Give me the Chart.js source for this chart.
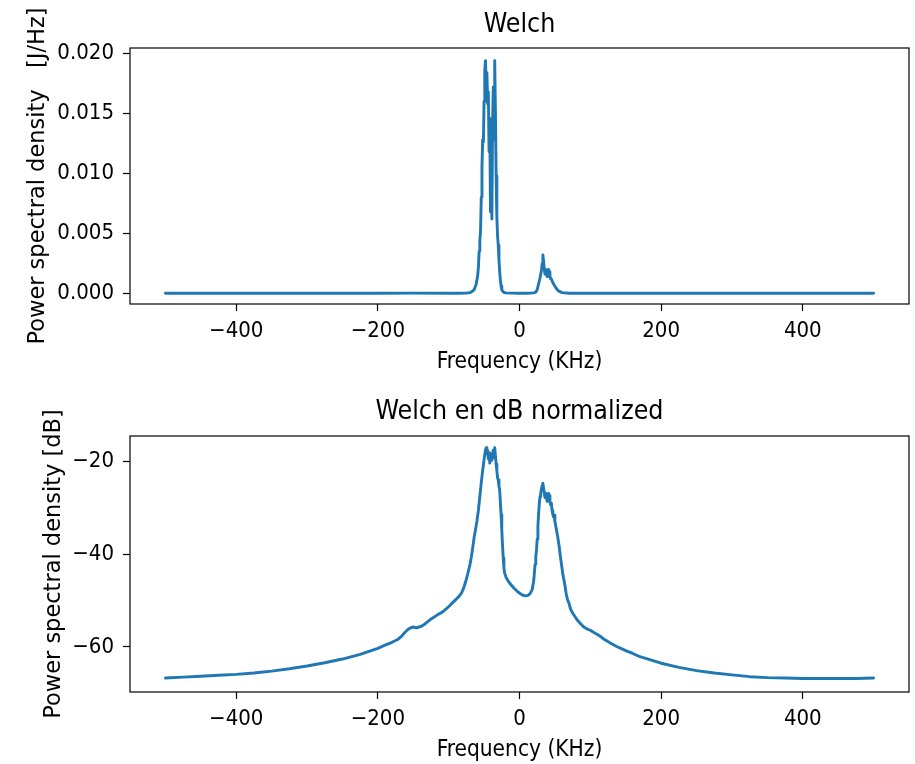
<!DOCTYPE html>
<html><head><meta charset="utf-8">
<script src="https://cdn.jsdelivr.net/npm/chart.js@4"></script>
<style>
html,body{margin:0;padding:0;background:#fff;overflow:hidden;width:915px;height:764px}
#c1{position:absolute;left:0;top:0}
#c2{position:absolute;left:0;top:382px}
</style>
</head><body>
<canvas id="c1" width="915" height="382"></canvas>
<canvas id="c2" width="915" height="382"></canvas>
<script>
// ---- data ----
const freqLin = [-500,-400,-300,-200,-150,-100,-85,-75,-70,-67,-64,-61,-59,-58,-57,-56,-55,-54,-53,-52,-51,-50,-49,-48,-47,-46,-45,-44,-43,-42,-41,-40,-39,-38,-37,-36,-35,-34,-33,-32,-31,-30,-29,-28,-27,-26,-25,-23,-20,-10,0,10,15,20,23,25,27,29,31,32,33,34,35,36,37,38,39,40,41,42,43,44,45,47,49,52,55,60,70,85,100,150,200,300,400,500];
const psdLin = [0,0,0,0.00001,0.00002,0.00001,0.00001,0.00003,0.00006,0.00015,0.0003,0.0008,0.0015,0.0022,0.0035,0.0044,0.0052,0.0080,0.0105,0.0128,0.0126,0.0160,0.0186,0.0194,0.0170,0.0184,0.0158,0.0168,0.0118,0.0146,0.0068,0.0112,0.0062,0.0142,0.0172,0.0128,0.0194,0.0152,0.0098,0.0064,0.0048,0.0040,0.0028,0.0018,0.0011,0.0006,0.0003,0.00012,0.00004,0.00002,0.00001,0.00001,0.00002,0.00004,0.0001,0.0003,0.0008,0.0013,0.0019,0.0025,0.0032,0.0027,0.0020,0.0016,0.0020,0.0016,0.0014,0.0018,0.0020,0.0018,0.0014,0.0012,0.0012,0.0009,0.0007,0.0004,0.0002,0.00006,0.00001,0.00001,0,0,0,0,0,0];

const freqDb = [-500,-475,-450,-425,-400,-375,-350,-325,-300,-275,-250,-225,-200,-190,-180,-172,-166,-162,-158,-154,-150,-146,-142,-138,-134,-130,-126,-122,-118,-114,-110,-106,-102,-98,-94,-90,-86,-82,-79,-76,-73,-70,-68,-66,-64,-62,-60,-58,-56,-54,-52,-50,-48,-47,-46,-45,-44,-43,-42,-41,-40,-39,-38,-37,-36,-35,-34,-33,-32,-31,-30,-29,-28,-27,-26,-25,-24,-23,-22,-21,-19,-16,-12,-8,-4,0,4,8,12,15,18,20,21,22,23,24,25,26,27,28,29,30,31,32,33,34,35,36,37,38,39,40,41,42,43,44,45,46,47,48,49,50,52,54,56,58,60,61,62,64,66,68,70,72,75,78,81,85,90,95,100,105,110,115,120,130,140,150,160,170,185,200,225,250,275,300,325,350,375,400,425,450,475,500];
const psdDb = [-66.7,-66.5,-66.3,-66.1,-65.9,-65.6,-65.2,-64.7,-64.1,-63.4,-62.6,-61.6,-60.3,-59.6,-59.0,-58.4,-57.6,-56.9,-56.3,-55.9,-55.7,-55.9,-55.7,-55.5,-55.1,-54.6,-54.1,-53.7,-53.3,-52.9,-52.6,-52.1,-51.6,-51.0,-50.4,-49.8,-49.2,-48.4,-47.4,-45.9,-44.2,-42.3,-40.6,-38.6,-36.3,-34.6,-32.8,-30.5,-27.6,-24.6,-22.0,-19.6,-17.5,-17.1,-18.4,-17.6,-19.5,-18.2,-20.4,-19.0,-18.6,-19.8,-18.3,-17.6,-19.2,-17.1,-18.8,-20.6,-21.9,-23.6,-24.0,-25.4,-26.2,-28.9,-31.5,-34.8,-38.0,-40.8,-43.0,-44.1,-45.0,-45.8,-46.6,-47.3,-47.9,-48.4,-48.8,-49.0,-48.9,-48.5,-47.6,-45.8,-44.1,-42.2,-40.6,-39.1,-36.8,-34.0,-31.2,-29.0,-27.6,-26.8,-26.0,-25.2,-24.7,-25.8,-26.9,-27.8,-26.9,-27.7,-28.6,-27.2,-26.9,-27.4,-28.7,-29.4,-29.0,-30.6,-31.4,-32.0,-31.6,-33.0,-34.6,-36.3,-38.3,-40.8,-43.0,-44.1,-45.0,-46.6,-48.6,-49.9,-50.6,-51.8,-52.7,-53.4,-54.1,-54.8,-55.6,-56.1,-56.4,-56.9,-57.3,-57.8,-58.4,-59.3,-60.1,-60.8,-61.4,-62.1,-62.8,-63.5,-64.4,-65.1,-65.6,-66.0,-66.4,-66.6,-66.7,-66.8,-66.8,-66.8,-66.8,-66.7];

const xTicks = [-400,-200,0,200,400];
const yTicksLin = [0,0.005,0.010,0.015,0.020];
const yTicksDb = [-60,-40,-20];

// ---- rendering ----
const CF = "'DejaVu Sans Condensed','DejaVu Sans',sans-serif";
const NF = "'DejaVu Sans',sans-serif";
const minus = v => v < 0 ? '\u2212' + Math.abs(v) : String(v);

const frame = {
  id: 'frame',
  afterDraw(chart) {
    const {ctx, chartArea: a} = chart;
    ctx.save();
    ctx.strokeStyle = '#000';
    ctx.lineWidth = 1.2;
    ctx.strokeRect(a.left, a.top, a.right - a.left, a.bottom - a.top);
    ctx.restore();
  }
};

function build(id, xs, ys, p) {
  const gridOpts = {display: true, drawOnChartArea: false, drawTicks: true, tickLength: 7, tickColor: '#000', tickWidth: 1.2};
  return new Chart(document.getElementById(id), {
    type: 'line',
    data: {datasets: [{
      data: xs.map((x, i) => ({x: x, y: ys[i]})),
      borderColor: '#1f77b4', borderWidth: 2.9, pointRadius: 0, tension: 0,
      borderJoinStyle: 'round', borderCapStyle: 'round', fill: false
    }]},
    options: {
      responsive: false, animation: false, events: [],
      layout: {padding: {left: 0, right: 6, top: 0, bottom: 0}},
      plugins: {
        legend: {display: false}, tooltip: {enabled: false},
        title: {display: true, text: p.title, fullSize: false, color: '#000',
          font: {family: CF, size: 26.5, weight: 'normal', lineHeight: 1.2},
          padding: {top: p.tTop, bottom: p.tBot}}
      },
      scales: {
        x: {
          type: 'linear', min: -550, max: 550,
          afterBuildTicks: s => { s.ticks = xTicks.map(v => ({value: v})); },
          afterFit: s => { s.height = p.xH; },
          grid: gridOpts, border: {display: false},
          ticks: {color: '#000', font: {family: CF, size: 22}, padding: 7, maxRotation: 0, callback: v => minus(v)},
          title: {display: true, text: 'Frequency (KHz)', color: '#000', font: {family: CF, size: 22.5}, padding: {top: 0, bottom: p.xTB}}
        },
        y: {
          type: 'linear', min: p.ymin, max: p.ymax,
          afterBuildTicks: s => { s.ticks = p.yTicks.map(v => ({value: v})); },
          afterFit: s => { s.width = 130; },
          grid: gridOpts, border: {display: false},
          ticks: {color: '#000', font: {family: CF, size: 22}, padding: 9, callback: p.yFmt},
          title: {display: true, text: p.yTitle, color: '#000', font: {family: NF, size: 22.5}, padding: {top: p.yTT, bottom: 0}}
        }
      }
    },
    plugins: [frame]
  });
}

build('c1', freqLin, psdLin, {
  title: 'Welch', tTop: 9.1, tBot: 7.1, xH: 78, xTB: 6,
  ymin: -0.00089, ymax: 0.02045, yTicks: yTicksLin, yFmt: v => v.toFixed(3),
  yTitle: 'Power spectral density   [J/Hz]', yTT: 24.5
});
build('c2', freqDb, psdDb, {
  title: 'Welch en dB normalized', tTop: 14.6, tBot: 7.6, xH: 72, xTB: 0,
  ymin: -69.7, ymax: -14.56, yTicks: yTicksDb, yFmt: v => minus(v),
  yTitle: 'Power spectral density [dB]', yTT: 40.5
});
</script>
</body></html>
